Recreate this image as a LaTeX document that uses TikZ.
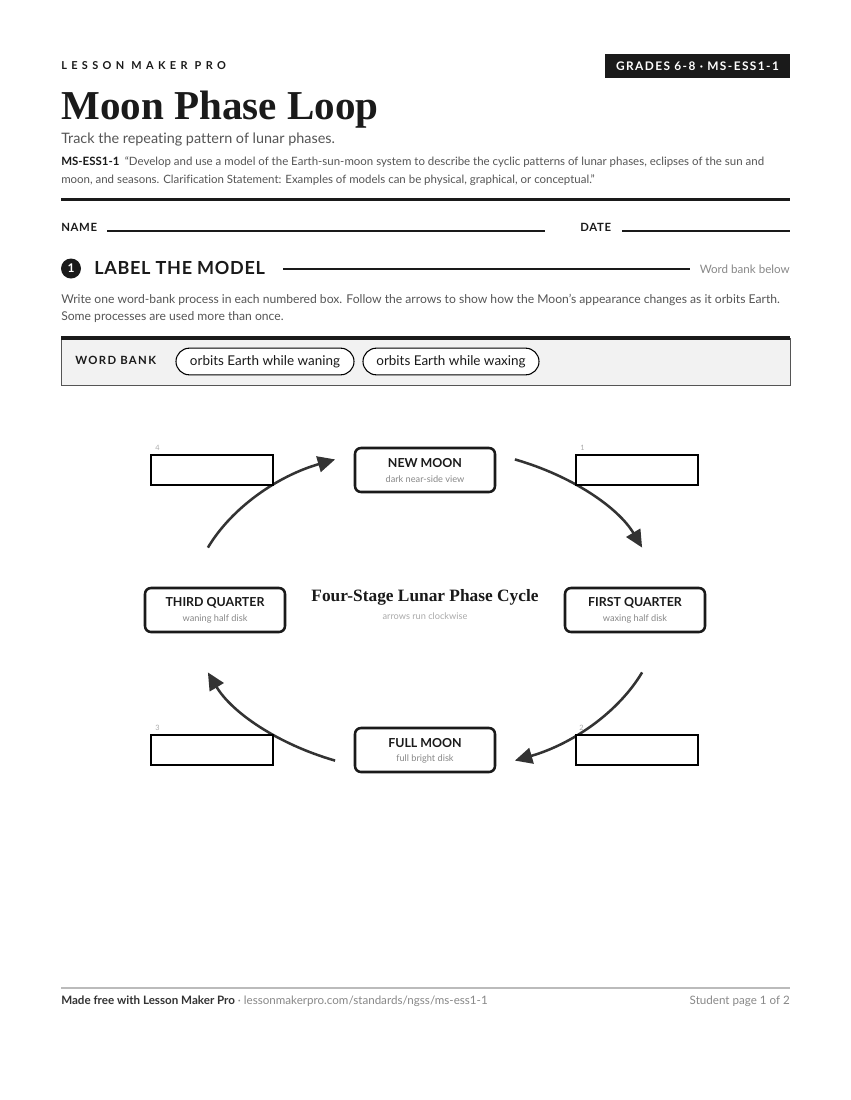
\documentclass[tikz,border=0pt]{standalone}
\usepackage{fontspec}
\setmainfont{Lato}[Ligatures=CommonOff]
\newfontfamily\serifbold{Liberation Serif}[BoldFont={Liberation Serif Bold}]
\newfontfamily\spacedwide{Lato}[LetterSpace=40,Ligatures=CommonOff]
\newfontfamily\spacedmid{Lato}[LetterSpace=12,Ligatures=CommonOff]
\newfontfamily\spacedsm{Lato}[LetterSpace=6,Ligatures=CommonOff]
\newfontfamily\spacedhd{Lato}[LetterSpace=4,Ligatures=CommonOff]
\usetikzlibrary{arrows.meta}
\definecolor{ink}{HTML}{1A1A1A}
\definecolor{body}{HTML}{555555}
\definecolor{soft}{HTML}{888888}
\definecolor{faint}{HTML}{AAAAAA}
\definecolor{arrowc}{HTML}{333333}
\definecolor{bankfill}{HTML}{F2F2F2}
\definecolor{rulegray}{HTML}{BBBBBB}
\tikzset{
  txt/.style={inner sep=0pt, anchor=base west},
  stage/.style={draw=ink, line width=1.9pt, rounded corners=4.5pt, fill=white,
    minimum width=105pt, minimum height=33pt, inner sep=0pt},
  slot/.style={draw=black, line width=1.1pt, fill=white,
    minimum width=91.5pt, minimum height=22.5pt, inner sep=0pt},
  pill/.style={draw=black, line width=0.8pt, rounded corners=10pt, fill=white,
    minimum height=20pt, inner xsep=9pt, inner ysep=0pt, text=ink,
    font=\fontsize{10.1}{12}\selectfont},
  flow/.style={draw=arrowc, line width=1.9pt, -{Triangle[length=13pt,width=12pt]}},
  stitle/.style={inner sep=0pt, text=ink, font=\bfseries\fontsize{9.3}{11}\selectfont},
  ssub/.style={inner sep=0pt, text=soft, font=\fontsize{6.9}{8}\selectfont},
  slotnum/.style={inner sep=0pt, anchor=base west, text=faint, font=\fontsize{5.5}{6}\selectfont},
}
\begin{document}
\begin{tikzpicture}[x=0.75pt,y=-0.75pt]
\useasboundingbox (0,0) rectangle (850,1100);
\fill[white] (0,0) rectangle (850,1100);

% header
\node[txt, text=ink, font=\spacedwide\bfseries\fontsize{8.2}{9}\selectfont] (brand) at (61,69.5) {LESSON MAKER PRO};
\node[fill=ink, text=white, minimum width=138.75pt, minimum height=18pt, inner sep=0pt,
  font=\spacedmid\bfseries\fontsize{8.9}{10}\selectfont] (grades) at (697.5,66) {GRADES 6-8 · MS-ESS1-1};
\node[txt, text=ink, font=\serifbold\bfseries\fontsize{30.8}{34}\selectfont] (title) at (61,119) {Moon Phase Loop};
\node[txt, text=body, font=\fontsize{10.8}{12}\selectfont] (subtitle) at (61,143) {Track the repeating pattern of lunar phases.};
\node[txt, text=body, font=\fontsize{8.6}{10}\selectfont] (std1) at (61,165)
  {{\color{ink}\bfseries MS-ESS1-1}\hspace{4pt}“Develop and use a model of the Earth-sun-moon system to describe the cyclic patterns of lunar phases, eclipses of the sun and};
\node[txt, text=body, font=\fontsize{8.6}{10}\selectfont] (std2) at (61,183)
  {moon, and seasons. Clarification Statement: Examples of models can be physical, graphical, or conceptual.”};
\draw[ink, line width=2.3pt] (61,199.5) coordinate (r1a) -- (790,199.5) coordinate (r1b);

% name / date
\node[txt, text=ink, font=\spacedsm\bfseries\fontsize{8.5}{10}\selectfont] (name) at (61,231) {NAME};
\draw[ink, line width=0.8pt] (107,231) coordinate (n1) -- (545,231) coordinate (n2);
\node[txt, text=ink, font=\spacedsm\bfseries\fontsize{8.5}{10}\selectfont] (date) at (580,231) {DATE};
\draw[ink, line width=0.8pt] (622,231) coordinate (d1) -- (790,231) coordinate (d2);

% section 1
\node[circle, fill=ink, text=white, minimum size=15pt, inner sep=0pt,
  font=\bfseries\fontsize{9}{10}\selectfont] (num1) at (71,268.5) {1};
\node[txt, text=ink, font=\spacedhd\bfseries\fontsize{13.5}{15}\selectfont] (sec) at (94,274) {LABEL THE MODEL};
\draw[ink, line width=0.8pt] (283,269) coordinate (s1) -- (690,269) coordinate (s2);
\node[inner sep=0pt, anchor=base east, text=soft, font=\fontsize{8.7}{10}\selectfont] (wbb) at (790,273) {Word bank below};
\node[txt, text=body, font=\fontsize{9.1}{11}\selectfont] (ins1) at (61,303)
  {Write one word-bank process in each numbered box. Follow the arrows to show how the Moon’s appearance changes as it orbits Earth.};
\node[txt, text=body, font=\fontsize{9.1}{11}\selectfont] (ins2) at (61,320)
  {Some processes are used more than once.};

% word bank
\draw[fill=bankfill, draw=body, line width=0.7pt] (61,338) rectangle (790,385);
\draw[ink, line width=2.3pt] (61,338) coordinate (wb1) -- (790,338) coordinate (wb2);
\node[txt, text=ink, font=\spacedmid\bfseries\fontsize{8.5}{10}\selectfont] (wbl) at (75,364) {WORD BANK};
\node[pill, minimum width=133.5pt] (p1) at (265,361.5) {orbits Earth while waning};
\node[pill, minimum width=132pt] (p2) at (451,361.5) {orbits Earth while waxing};

% arrows (drawn below label slots)
\coordinate (a1s) at (514.9,459.4);
\coordinate (a1e) at (642.1,547.6);
\coordinate (a2s) at (642.1,672.4);
\coordinate (a2e) at (514.9,760.6);
\coordinate (a3s) at (335.1,760.6);
\coordinate (a3e) at (207.9,672.4);
\coordinate (a4s) at (207.9,547.6);
\coordinate (a4e) at (335.1,459.4);
\draw[flow] (a1s) .. controls (572.5,476.0) and (618.3,507.7) .. (a1e);
\draw[flow] (a2s) .. controls (618.3,712.3) and (572.5,744.0) .. (a2e);
\draw[flow] (a3s) .. controls (277.5,744.0) and (231.7,712.3) .. (a3e);
\draw[flow] (a4s) .. controls (231.7,507.7) and (277.5,476.0) .. (a4e);

% stages
\node[stage] (newm) at (425,470) {};
\node[stitle] (newt) at (425,463) {NEW MOON};
\node[ssub] (news) at (425,479) {dark near-side view};
\node[stage] (firstq) at (635,610) {};
\node[stitle] (firstt) at (635,603) {FIRST QUARTER};
\node[ssub] (firsts) at (635,619) {waxing half disk};
\node[stage] (fullm) at (425,750) {};
\node[stitle] (fullt) at (425,743) {FULL MOON};
\node[ssub] (fulls) at (425,759) {full bright disk};
\node[stage] (thirdq) at (215,610) {};
\node[stitle] (thirdt) at (215,603) {THIRD QUARTER};
\node[ssub] (thirds) at (215,619) {waning half disk};

% center caption
\node[inner sep=0pt, text=ink, font=\serifbold\bfseries\fontsize{13}{15}\selectfont] (cap) at (425,597) {Four-Stage Lunar Phase Cycle};
\node[inner sep=0pt, text=faint, font=\fontsize{6.9}{8}\selectfont] (capsub) at (425,616) {arrows run clockwise};

% label slots
\node[slot] (slot4) at (212,470) {};
\node[slotnum] (n4) at (155,450) {4};
\node[slot] (slot1) at (637,470) {};
\node[slotnum] (n1l) at (580,450) {1};
\node[slot] (slot3) at (212,750) {};
\node[slotnum] (n3) at (155,730) {3};
\node[slot] (slot2) at (637,750) {};
\node[slotnum] (n2l) at (579,730) {2};

% footer
\draw[rulegray, line width=1.3pt] (61,988) coordinate (f1) -- (790,988) coordinate (f2);
\node[txt, text=soft, font=\fontsize{8.7}{10}\selectfont] (foot) at (61,1004)
  {{\color{arrowc}\bfseries Made free with Lesson Maker Pro} · lessonmakerpro.com/standards/ngss/ms-ess1-1};
\node[inner sep=0pt, anchor=base east, text=soft, font=\fontsize{8.7}{10}\selectfont] (page) at (790,1004) {Student page 1 of 2};
\end{tikzpicture}
\end{document}
